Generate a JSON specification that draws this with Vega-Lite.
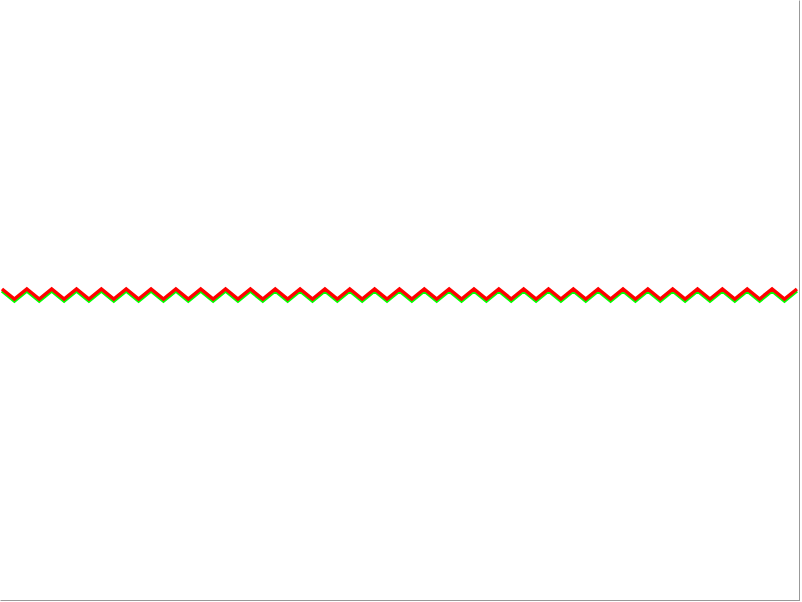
{
  "$schema": "https://vega.github.io/schema/vega-lite/v6.json",
  "width": 800,
  "height": 601,
  "padding": 0,
  "autosize": {"type": "none"},
  "background": "white",
  "config": {"view": {"stroke": null}},
  "data": {"values": [
    {"i":0,"red":312,"green":310},{"i":1,"red":302,"green":300},{"i":2,"red":312,"green":310},{"i":3,"red":302,"green":300},
    {"i":4,"red":312,"green":310},{"i":5,"red":302,"green":300},{"i":6,"red":312,"green":310},{"i":7,"red":302,"green":300},
    {"i":8,"red":312,"green":310},{"i":9,"red":302,"green":300},{"i":10,"red":312,"green":310},{"i":11,"red":302,"green":300},
    {"i":12,"red":312,"green":310},{"i":13,"red":302,"green":300},{"i":14,"red":312,"green":310},{"i":15,"red":302,"green":300},
    {"i":16,"red":312,"green":310},{"i":17,"red":302,"green":300},{"i":18,"red":312,"green":310},{"i":19,"red":302,"green":300},
    {"i":20,"red":312,"green":310},{"i":21,"red":302,"green":300},{"i":22,"red":312,"green":310},{"i":23,"red":302,"green":300},
    {"i":24,"red":312,"green":310},{"i":25,"red":302,"green":300},{"i":26,"red":312,"green":310},{"i":27,"red":302,"green":300},
    {"i":28,"red":312,"green":310},{"i":29,"red":302,"green":300},{"i":30,"red":312,"green":310},{"i":31,"red":302,"green":300},
    {"i":32,"red":312,"green":310},{"i":33,"red":302,"green":300},{"i":34,"red":312,"green":310},{"i":35,"red":302,"green":300},
    {"i":36,"red":312,"green":310},{"i":37,"red":302,"green":300},{"i":38,"red":312,"green":310},{"i":39,"red":302,"green":300},
    {"i":40,"red":312,"green":310},{"i":41,"red":302,"green":300},{"i":42,"red":312,"green":310},{"i":43,"red":302,"green":300},
    {"i":44,"red":312,"green":310},{"i":45,"red":302,"green":300},{"i":46,"red":312,"green":310},{"i":47,"red":302,"green":300},
    {"i":48,"red":312,"green":310},{"i":49,"red":302,"green":300},{"i":50,"red":312,"green":310},{"i":51,"red":302,"green":300},
    {"i":52,"red":312,"green":310},{"i":53,"red":302,"green":300},{"i":54,"red":312,"green":310},{"i":55,"red":302,"green":300},
    {"i":56,"red":312,"green":310},{"i":57,"red":302,"green":300},{"i":58,"red":312,"green":310},{"i":59,"red":302,"green":300},
    {"i":60,"red":312,"green":310},{"i":61,"red":302,"green":300},{"i":62,"red":312,"green":310},{"i":63,"red":302,"green":300},
    {"i":64,"red":312,"green":310}
  ]},
  "encoding": {
    "x": {
      "field": "i", "type": "quantitative",
      "scale": {"domain": [-0.16, 64.25], "nice": false, "zero": false},
      "axis": {"orient": "bottom", "labels": false, "ticks": false, "grid": false, "title": null, "domainColor": "#999999", "domainWidth": 3}
    }
  },
  "layer": [
    {
      "mark": {"type": "line", "color": "#00ff00", "strokeWidth": 3.5, "strokeJoin": "miter"},
      "encoding": {
        "y": {
          "field": "green", "type": "quantitative",
          "scale": {"domain": [0, 601], "nice": false, "zero": false},
          "axis": {"orient": "right", "labels": false, "ticks": false, "grid": false, "title": null, "domainColor": "#999999", "domainWidth": 3}
        }
      }
    },
    {
      "mark": {"type": "line", "color": "#ff0000", "strokeWidth": 3.5, "strokeJoin": "miter"},
      "encoding": {
        "y": {
          "field": "red", "type": "quantitative",
          "scale": {"domain": [0, 601], "nice": false, "zero": false},
          "axis": {"orient": "right", "labels": false, "ticks": false, "grid": false, "title": null, "domainColor": "#999999", "domainWidth": 3}
        }
      }
    }
  ]
}
